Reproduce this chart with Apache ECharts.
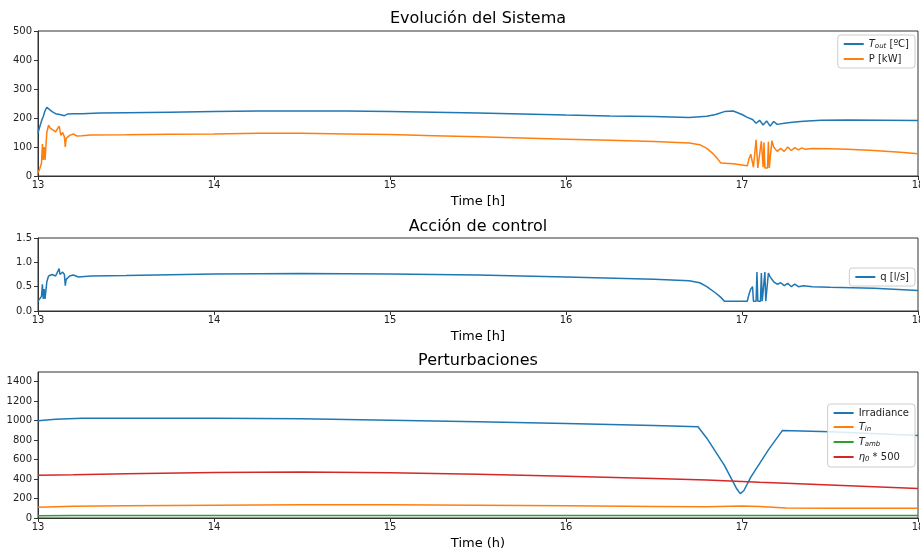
<!DOCTYPE html>
<html><head><meta charset="utf-8">
<script src="https://cdn.jsdelivr.net/npm/echarts@6/dist/echarts.min.js"></script>
<style>html,body{margin:0;padding:0;background:#fff;overflow:hidden}#c{position:absolute;left:0;top:0;width:920px;height:549px}</style>
</head><body><div id="c"></div>
<script>
// ---- Data ----
const timeTout = [13.00,13.01,13.02,13.03,13.04,13.05,13.06,13.08,13.10,13.13,13.15,13.17,13.20,13.25,13.35,13.5,13.75,14.0,14.25,14.5,14.75,15.0,15.25,15.5,15.75,16.0,16.25,16.5,16.7,16.8,16.85,16.9,16.95,17.0,17.03,17.06,17.08,17.1,17.12,17.14,17.16,17.18,17.2,17.25,17.3,17.35,17.45,17.6,17.8,18.0];
const tOut = [148,170,190,205,225,237,232,222,215,211,208,214,215,215,217,218,220,222,224,224,224,222,220,217,214,210,207,205,202,206,212,222,224,212,202,195,182,192,176,190,172,188,178,183,186,189,192,193,192,191];

const timeP = [13.00,13.01,13.02,13.025,13.03,13.035,13.04,13.05,13.06,13.07,13.08,13.10,13.11,13.12,13.13,13.14,13.15,13.155,13.16,13.18,13.20,13.22,13.25,13.3,13.5,13.75,14.0,14.25,14.5,14.75,15.0,15.25,15.5,15.75,16.0,16.25,16.5,16.7,16.76,16.8,16.83,16.86,16.88,16.95,17.0,17.03,17.04,17.05,17.06,17.065,17.075,17.08,17.09,17.10,17.11,17.12,17.125,17.13,17.145,17.15,17.155,17.165,17.17,17.18,17.2,17.22,17.24,17.26,17.28,17.3,17.32,17.34,17.36,17.4,17.5,17.6,17.75,17.9,18.0];
const power = [10,25,45,110,55,100,55,150,175,165,162,152,150,172,140,150,135,100,130,140,145,138,139,141,142,144,145,147,147,145,143,139,135,131,127,123,119,114,108,95,80,60,45,42,38,35,60,75,80,30,30,125,28,28,120,30,115,28,28,118,28,28,122,100,85,95,85,100,88,98,90,97,92,95,94,92,88,82,77];

const timeQ = [13.00,13.01,13.02,13.025,13.03,13.035,13.04,13.05,13.06,13.08,13.10,13.11,13.12,13.125,13.14,13.15,13.155,13.16,13.18,13.2,13.23,13.3,13.5,14.0,14.5,15.0,15.5,16.0,16.5,16.7,16.76,16.8,16.85,16.88,16.9,17.03,17.04,17.05,17.06,17.065,17.08,17.085,17.09,17.105,17.11,17.115,17.125,17.13,17.135,17.145,17.15,17.16,17.18,17.2,17.22,17.24,17.26,17.28,17.3,17.32,17.35,17.4,17.5,17.75,18.0];
const qFlow = [0.2,0.2,0.3,0.55,0.25,0.45,0.25,0.6,0.72,0.75,0.72,0.74,0.87,0.75,0.8,0.75,0.52,0.65,0.72,0.74,0.70,0.72,0.73,0.76,0.77,0.76,0.74,0.70,0.65,0.62,0.58,0.5,0.37,0.28,0.2,0.2,0.35,0.45,0.5,0.2,0.2,0.8,0.2,0.2,0.78,0.2,0.2,0.8,0.2,0.2,0.78,0.7,0.6,0.55,0.58,0.52,0.57,0.5,0.55,0.5,0.52,0.5,0.49,0.47,0.42];

const timeIrr = [13.0,13.1,13.25,13.5,14.0,14.5,15.0,15.5,16.0,16.5,16.75,16.8,16.9,16.97,16.99,17.01,17.05,17.15,17.23,17.5,18.0];
const irradiance = [1000,1015,1025,1025,1025,1020,1005,990,970,950,938,820,540,300,250,280,420,700,900,885,848];

const timeDist = [13.0,13.2,13.5,14.0,14.5,15.0,15.5,16.0,16.5,16.8,17.0,17.1,17.25,17.5,18.0];
const tIn = [110,120,125,132,135,135,130,125,118,115,123,118,102,100,100];
const tAmb = [24,25,25,26,26,26,26,26,25,25,25,25,25,25,25];
const eta500 = [440,445,455,468,473,465,450,430,405,390,375,368,358,340,302];

const xTicks = [13,14,15,16,17,18];
const yTicks1 = [0,100,200,300,400,500];
const yTicks2 = [0.0,0.5,1.0,1.5];
const yTicks3 = [0,200,400,600,800,1000,1200,1400];

// ---- Chart ----
const pair = (t, v) => t.map((x, i) => [x, v[i]]);
const C = ['#1f77b4', '#ff7f0e', '#2ca02c', '#d62728'];
const FONT = 'DejaVu Sans';
const chart = echarts.init(document.getElementById('c'), null, {renderer: 'canvas', width: 920, height: 549});

const gridsDef = [{top: 31, height: 145}, {top: 238, height: 73}, {top: 372, height: 146}];
const grids = gridsDef.map(g => ({left: 38, width: 880, top: g.top, height: g.height, show: true, borderColor: '#333', borderWidth: 1, backgroundColor: 'transparent', containLabel: false, outerBoundsMode: 'none'}));

const xNames = ['Time [h]', 'Time [h]', 'Time (h)'];
const xAxes = xNames.map((n, i) => ({
  type: 'value', gridIndex: i, min: xTicks[0], max: xTicks[xTicks.length - 1], interval: 1,
  name: n, nameLocation: 'middle', nameGap: 19,
  nameTextStyle: {fontFamily: FONT, fontSize: 13, color: '#000'},
  axisLine: {lineStyle: {color: '#333'}}, axisTick: {length: 4, lineStyle: {color: '#333'}},
  axisLabel: {fontFamily: FONT, fontSize: 10, color: '#222', margin: 4},
  splitLine: {show: false}
}));
const yDefs = [
  {ticks: yTicks1, max: 500, interval: 100, fmt: v => String(v)},
  {ticks: yTicks2, max: 1.5, interval: 0.5, fmt: v => v.toFixed(1)},
  {ticks: yTicks3, max: 1500, interval: 200, fmt: v => v > 1400 ? '' : String(v)}
];
const yAxes = yDefs.map((d, i) => ({
  type: 'value', gridIndex: i, min: d.ticks[0], max: d.max, interval: d.interval,
  axisLine: {show: true, lineStyle: {color: '#333'}}, axisTick: {show: true, length: 4, lineStyle: {color: '#333'}},
  axisLabel: {fontFamily: FONT, fontSize: 10, color: '#222', margin: 6, formatter: d.fmt, showMaxLabel: i !== 2},
  splitLine: {show: false}
}));

const line = (name, data, color, xi) => ({
  name, type: 'line', data, xAxisIndex: xi, yAxisIndex: xi, showSymbol: false, symbol: 'none',
  lineStyle: {color, width: 1.5}, itemStyle: {color}, animation: false
});

const rich = {
  it: {fontFamily: FONT, fontSize: 10, fontStyle: 'italic', color: '#222'},
  sub: {fontFamily: FONT, fontSize: 7, fontStyle: 'italic', color: '#222', padding: [5, 0, 0, 0]},
  n: {fontFamily: FONT, fontSize: 10, color: '#222'}
};
const legendFmt = {
  'T_out': '{it|T}{sub|out}{n| [ºC]}',
  'P [kW]': '{n|P [kW]}',
  'q [l/s]': '{n|q [l/s]}',
  'Irradiance': '{n|Irradiance}',
  'T_in': '{it|T}{sub|in}',
  'T_amb': '{it|T}{sub|amb}',
  'eta': '{it|η}{sub|0}{n| * 500}'
};
const mkLegend = (data, top) => ({
  data, top, right: 5, orient: 'vertical', icon: 'rect', itemWidth: 20, itemHeight: 2, itemGap: 4,
  padding: [4, 6, 4, 6], borderColor: '#ccc', borderWidth: 1, borderRadius: 3, backgroundColor: 'rgba(255,255,255,0.85)',
  formatter: n => legendFmt[n], textStyle: {fontFamily: FONT, fontSize: 10, color: '#222', rich}
});

const titleStyle = {fontFamily: FONT, fontSize: 16, fontWeight: 'normal', color: '#000'};
chart.setOption({
  animation: false,
  title: [
    {text: 'Evolución del Sistema', left: 478, top: 11, textAlign: 'center', textStyle: titleStyle, padding: 0},
    {text: 'Acción de control', left: 478, top: 219, textAlign: 'center', textStyle: titleStyle, padding: 0},
    {text: 'Perturbaciones', left: 478, top: 353, textAlign: 'center', textStyle: titleStyle, padding: 0}
  ],
  grid: grids, xAxis: xAxes, yAxis: yAxes,
  legend: [
    mkLegend(['T_out', 'P [kW]'], 35),
    mkLegend(['q [l/s]'], 268),
    mkLegend(['Irradiance', 'T_in', 'T_amb', 'eta'], 404)
  ],
  series: [
    line('T_out', pair(timeTout, tOut), C[0], 0),
    line('P [kW]', pair(timeP, power), C[1], 0),
    line('q [l/s]', pair(timeQ, qFlow), C[0], 1),
    line('Irradiance', pair(timeIrr, irradiance), C[0], 2),
    line('T_in', pair(timeDist, tIn), C[1], 2),
    line('T_amb', pair(timeDist, tAmb), C[2], 2),
    line('eta', pair(timeDist, eta500), C[3], 2)
  ]
});
</script></body></html>
